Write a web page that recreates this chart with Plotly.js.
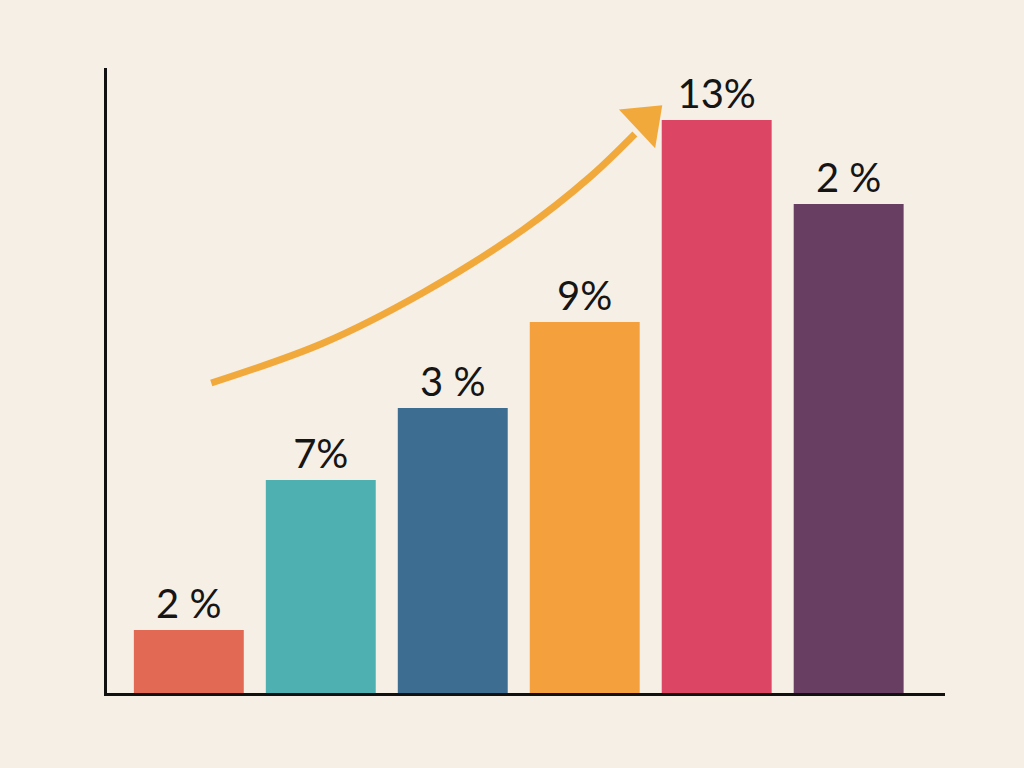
<!DOCTYPE html>
<html>
<head>
<meta charset="utf-8">
<script src="https://cdn.plot.ly/plotly-3.0.1.min.js"></script>
<style>
  html, body { margin: 0; padding: 0; background: #f5efe6; }
  #chart { width: 1024px; height: 768px; }
</style>
</head>
<body>
<div id="chart"></div>
<script>
var categories = ['A', 'B', 'C', 'D', 'E', 'F'];
var barValues = [63, 213, 285, 371, 573, 489];
var barLabels = ['2 %', '7%', '3 %', '9%', '13%', '2 %'];
var barColors = ['#e26a55', '#4fb0b2', '#3d6d90', '#f4a03c', '#dc4563', '#683f62'];

// trend arrow path (x in category units)
var trendX = [0.17, 1.02, 1.77, 2.53, 3.04, 3.38];
var trendY = [310, 350, 400, 463, 516, 559];
var headX = [3.46];
var headY = [572];

var bars = {
  x: [0, 1, 2, 3, 4, 5],
  y: barValues,
  type: 'bar',
  text: barLabels,
  textposition: 'outside',
  cliponaxis: false,
  textfont: { family: 'Lato', size: 40, color: '#151515' },
  marker: { color: barColors, line: { width: 0 } },
  hoverinfo: 'none'
};

var trend = {
  x: trendX,
  y: trendY,
  type: 'scatter',
  mode: 'lines',
  line: { color: '#f2a93b', width: 7, shape: 'spline' },
  hoverinfo: 'none'
};

var head = {
  x: headX,
  y: headY,
  type: 'scatter',
  mode: 'markers',
  marker: { symbol: 'triangle-up', size: 46, angle: 47, color: '#f2a93b' },
  cliponaxis: false,
  hoverinfo: 'none'
};

var layout = {
  width: 1024,
  height: 768,
  margin: { l: 107, r: 79, t: 68, b: 75 },
  paper_bgcolor: '#f5efe6',
  plot_bgcolor: '#f5efe6',
  showlegend: false,
  bargap: 0.167,
  xaxis: {
    range: [-0.62, 5.73],
    showline: true,
    linecolor: '#111111',
    linewidth: 3,
    showgrid: false,
    zeroline: false,
    showticklabels: false,
    ticks: ''
  },
  yaxis: {
    range: [0, 625],
    showline: true,
    linecolor: '#111111',
    linewidth: 3,
    showgrid: false,
    zeroline: false,
    showticklabels: false,
    ticks: ''
  }
};

Plotly.newPlot('chart', [bars, trend, head], layout, { displayModeBar: false, staticPlot: true });
</script>
</body>
</html>
